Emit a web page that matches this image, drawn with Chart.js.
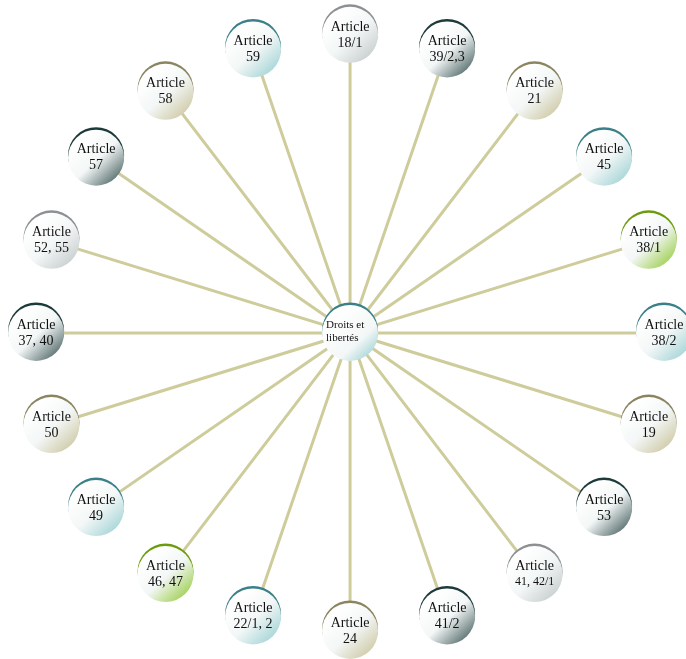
<!DOCTYPE html>
<html>
<head>
<meta charset="utf-8">
<script src="https://cdn.jsdelivr.net/npm/chart.js@4/dist/chart.umd.min.js"></script>
<style>
  body { margin: 0; background: #fff; }
  #wrap { width: 686px; height: 659px; }
</style>
</head>
<body>
<div id="wrap"><canvas id="spokeChart"></canvas></div>
<script>
// data
const centerLabel = ['Droits et', 'libertés'];
const articles = ['18/1', '39/2,3', '21', '45', '38/1', '38/2', '19', '53', '41, 42/1', '41/2',
                  '24', '22/1, 2', '46, 47', '49', '50', '37, 40', '52, 55', '57', '58', '59'];
const groups = ['gray', 'dark', 'khaki', 'teal', 'green', 'teal', 'khaki', 'dark', 'gray', 'dark',
                'khaki', 'teal', 'green', 'teal', 'khaki', 'dark', 'gray', 'dark', 'khaki', 'teal'];

const PALETTE = {
    teal:  { rim: '#3b8088', fill: '#9fd2d4' },
    dark:  { rim: '#1d3a3a', fill: '#4a6262' },
    khaki: { rim: '#8a8460', fill: '#cbc6a0' },
    gray:  { rim: '#8c9092', fill: '#c4cacb' },
    green: { rim: '#6c9c0e', fill: '#98cc44' }
};

// nodes evenly round the centre, clockwise from the top
const nodePoints = articles.map((a, i) => {
    const ang = i / articles.length * Math.PI * 2;
    return { x: Math.sin(ang), y: Math.cos(ang) };
});
const spokePoints = [];
nodePoints.forEach(p => { spokePoints.push({ x: 0, y: 0 }); spokePoints.push(p); });
spokePoints.push({ x: 0, y: 0 });

function drawNode(ctx, x, y, r, col, whiteStop) {
    ctx.save();
    ctx.beginPath();
    ctx.arc(x, y - 2.5, r, 0, Math.PI * 2);
    ctx.fillStyle = col.rim;
    ctx.fill();
    const g = ctx.createLinearGradient(x - r * 0.6, y - r * 0.6, x + r * 0.8, y + r * 0.9);
    g.addColorStop(0, '#ffffff');
    g.addColorStop(whiteStop, '#f4f7f7');
    g.addColorStop(1, col.fill);
    ctx.beginPath();
    ctx.arc(x, y, r, 0, Math.PI * 2);
    ctx.fillStyle = g;
    ctx.fill();
    ctx.restore();
}

const nodePlugin = {
    id: 'nodes',
    afterDatasetsDraw(chart) {
        const ctx = chart.ctx;
        const meta = chart.getDatasetMeta(1);
        meta.data.forEach((pt, i) => {
            drawNode(ctx, pt.x, pt.y, 28, PALETTE[groups[i]], 0.45);
            ctx.fillStyle = '#111';
            ctx.textAlign = 'center';
            ctx.textBaseline = 'middle';
            ctx.font = '14px "Liberation Serif", serif';
            ctx.fillText('Article', pt.x, pt.y - 8);
            ctx.font = (articles[i].length > 7 ? '12px' : '14px') + ' "Liberation Serif", serif';
            ctx.fillText(articles[i], pt.x, pt.y + 8);
        });
        const c = chart.getDatasetMeta(2).data[0];
        drawNode(ctx, c.x, c.y, 28, PALETTE.teal, 0.62);
        ctx.fillStyle = '#111';
        ctx.textAlign = 'left';
        ctx.textBaseline = 'middle';
        ctx.font = '11px "Liberation Serif", serif';
        ctx.fillText(centerLabel[0], c.x - 24, c.y - 8);
        ctx.fillText(centerLabel[1], c.x - 24, c.y + 5);
    }
};

new Chart(document.getElementById('spokeChart'), {
    type: 'scatter',
    data: {
        datasets: [
            {
                data: spokePoints,
                showLine: true,
                borderColor: '#cfcc9c',
                borderWidth: 3,
                pointRadius: 0,
                tension: 0
            },
            { data: nodePoints, pointRadius: 0 },
            { data: [{ x: 0, y: 0 }], pointRadius: 0 }
        ]
    },
    options: {
        responsive: true,
        maintainAspectRatio: false,
        animation: false,
        layout: { padding: 0 },
        plugins: { legend: { display: false }, tooltip: { enabled: false } },
        scales: {
            x: { display: false, min: -1.115, max: 1.07 },
            y: { display: false, min: -1.094, max: 1.117 }
        }
    },
    plugins: [nodePlugin]
});
</script>
</body>
</html>
